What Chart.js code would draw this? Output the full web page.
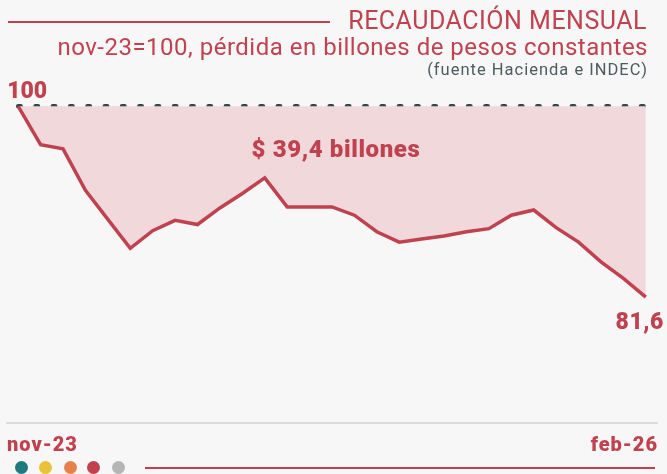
<!DOCTYPE html>
<html>
<head>
<meta charset="utf-8">
<script src="https://cdn.jsdelivr.net/npm/chart.js@4"></script>
<style>
  html, body { margin: 0; padding: 0; background: #f7f7f7; }
  #wrap { position: relative; width: 667px; height: 474px; overflow: hidden; font-family: Roboto, "Liberation Sans", sans-serif; }
  #chart { position: absolute; left: 0; top: 0; }
  .title { position: absolute; right: 20px; top: 7px; color: #c0424f; font-size: 25px; line-height: 28px; letter-spacing: 0.5px; white-space: nowrap; }
  .titleLine { position: absolute; left: 8px; top: 21px; width: 322px; height: 2px; background: #c0424f; }
  .sub { position: absolute; right: 19px; top: 34px; color: #c0424f; font-size: 24px; line-height: 26px; letter-spacing: 0.5px; white-space: nowrap; }
  .src { position: absolute; right: 19px; top: 60px; color: #4d5a5e; font-size: 16.5px; line-height: 20px; letter-spacing: 1px; white-space: nowrap; }
  .dot { position: absolute; top: 461px; width: 13px; height: 13px; border-radius: 50%; }
  .footLine { position: absolute; left: 145px; top: 467px; width: 510px; height: 2px; background: #c0424f; }
</style>
</head>
<body>
<div id="wrap">
  <canvas id="chart" width="667" height="474"></canvas>
  <div class="titleLine"></div>
  <div class="title">RECAUDACIÓN MENSUAL</div>
  <div class="sub">nov-23=100, pérdida en billones de pesos constantes</div>
  <div class="src">(fuente Hacienda e INDEC)</div>
  <div class="dot" style="left:15px;background:#1f7a80"></div>
  <div class="dot" style="left:39px;background:#e8c33a"></div>
  <div class="dot" style="left:64px;background:#e8804a"></div>
  <div class="dot" style="left:87px;background:#c0424f"></div>
  <div class="dot" style="left:112px;background:#b5b5b5"></div>
  <div class="footLine"></div>
</div>
<script>
// monthly index, nov-23 = 100
const months = ['m1','m2','m3','m4','m5','m6','m7','m8','m9','m10','m11','m12','m13','m14','m15',
  'm16','m17','m18','m19','m20','m21','m22','m23','m24','m25','m26','m27','m28','m29'];
const recaudacion = [100, 96.3, 95.9, 91.9, 89.1, 86.3, 88.0, 89.0, 88.6, 90.2, 91.6, 93.1, 90.3, 90.3, 90.3,
  89.5, 87.9, 86.9, 87.2, 87.5, 87.9, 88.2, 89.5, 90.0, 88.3, 86.9, 85.0, 83.4, 81.6];
const baseValue = 100;
const tickLabels = ['nov-23', 'feb-26'];
const perdidaLabel = '$ 39,4 billones';
const firstLabel = '100';
const lastLabel = '81,6';

const RED = '#c0424f';

const labelsPlugin = {
  id: 'labels',
  afterDatasetsDraw(chart) {
    const ctx = chart.ctx;
    const xs = chart.scales.x, ys = chart.scales.y;
    const area = chart.chartArea;
    ctx.save();
    ctx.fillStyle = RED;
    ctx.font = '900 23px Roboto';
    ctx.textBaseline = 'alphabetic';

    const x0 = xs.getPixelForValue(0), y0 = ys.getPixelForValue(recaudacion[0]);
    ctx.textAlign = 'left';
    ctx.fillText(firstLabel, x0 - 11, y0 - 8);

    const n = recaudacion.length - 1;
    const xn = xs.getPixelForValue(n), yn = ys.getPixelForValue(recaudacion[n]);
    ctx.textAlign = 'right';
    ctx.letterSpacing = '0.5px';
    ctx.fillText(lastLabel, xn + 18, yn + 32);

    ctx.textAlign = 'center';
    ctx.font = '900 24px Roboto';
    ctx.letterSpacing = '0.6px';
    ctx.fillText(perdidaLabel, xs.getPixelForValue(14) + 4, ys.getPixelForValue(95.1));

    // x labels
    ctx.font = '900 20px Roboto';
    ctx.letterSpacing = '1px';
    ctx.textAlign = 'left';
    ctx.fillText(tickLabels[0], area.left, area.bottom + 28);
    ctx.textAlign = 'right';
    ctx.fillText(tickLabels[1], area.right + 1, area.bottom + 28);
    ctx.restore();
  }
};

new Chart(document.getElementById('chart'), {
  type: 'line',
  data: {
    labels: months,
    datasets: [
      {
        data: recaudacion,
        borderColor: RED,
        borderWidth: 3.5,
        backgroundColor: '#f1d8db',
        fill: { value: baseValue },
        pointRadius: 0,
        tension: 0,
        order: 1
      },
      {
        data: [{ x: months[0], y: baseValue }, { x: months[months.length - 1], y: baseValue }],
        borderColor: '#2f4548',
        borderWidth: 4.5,
        borderDash: [2.5, 14.8],
        borderCapStyle: 'round',
        pointRadius: 0,
        fill: false,
        order: 2
      }
    ]
  },
  options: {
    responsive: false,
    animation: false,
    layout: { padding: { left: 7, right: 10, top: 96, bottom: 51 } },
    plugins: { legend: { display: false }, tooltip: { enabled: false } },
    scales: {
      x: {
        offset: true,
        grid: { display: false, drawTicks: false },
        border: { display: true, color: '#dcdcdc', width: 2 },
        ticks: { display: false }
      },
      y: {
        display: false,
        min: 69.45,
        max: 101
      }
    }
  },
  plugins: [labelsPlugin]
});
</script>
</body>
</html>
